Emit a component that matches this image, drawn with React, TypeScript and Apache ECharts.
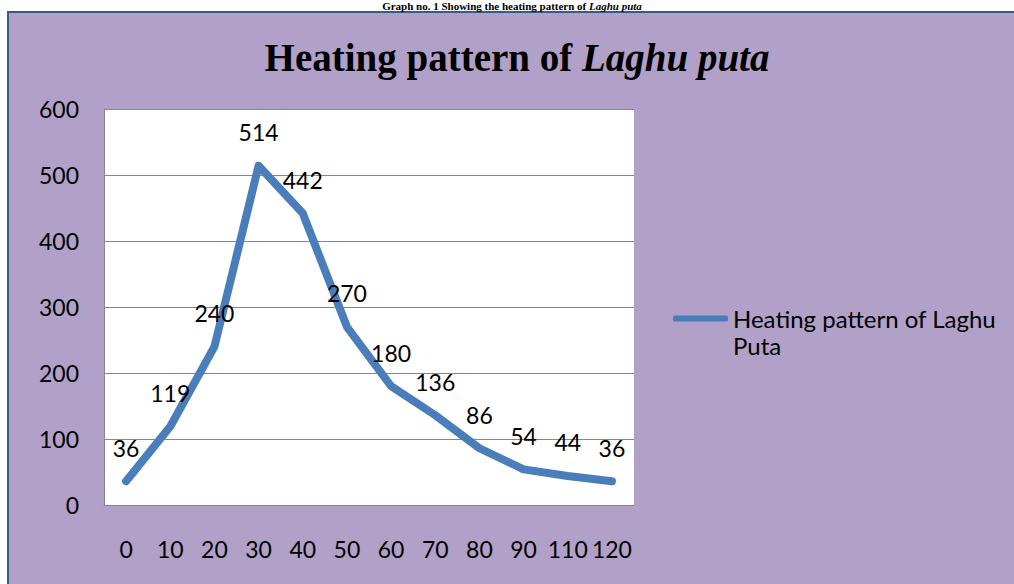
import React, { useEffect, useRef } from "react";
import * as echarts from "echarts";

const categories = ["0", "10", "20", "30", "40", "50", "60", "70", "80", "90", "110", "120"];
const values = [36, 119, 240, 514, 442, 270, 180, 136, 86, 54, 44, 36];
const seriesName = "Heating pattern of Laghu Puta";
const yTicks = { min: 0, max: 600, interval: 100 };

export default function App() {
  const ref = useRef<HTMLDivElement>(null);
  useEffect(() => {
    if (!ref.current) return;
    const chart = echarts.init(ref.current, null, { renderer: "svg" });
    const font = "Lato, 'Open Sans', sans-serif";
    const serif = "'Liberation Serif', serif";
    chart.setOption({
      animation: false,
      backgroundColor: "#ffffff",
      graphic: [
        {
          type: "rect",
          z: -10,
          shape: { x: 8, y: 12, width: 1010, height: 600 },
          style: { fill: "#b1a0c7", stroke: "#3a5a86", lineWidth: 2 },
          silent: true,
        },
        {
          type: "text",
          x: 512,
          y: 0,
          style: {
            text: "{b|Graph no. 1 Showing the heating pattern of }{i|Laghu puta}",
            align: "center",
            verticalAlign: "top",
            rich: {
              b: { fontFamily: serif, fontWeight: "bold", fontSize: 11, lineHeight: 11, fill: "#000" },
              i: { fontFamily: serif, fontWeight: "bold", fontStyle: "italic", fontSize: 11, lineHeight: 11, fill: "#000" },
            },
          },
        },
        {
          type: "text",
          x: 517,
          y: 57,
          style: {
            text: "{b|Heating pattern of }{i|Laghu puta}",
            align: "center",
            verticalAlign: "middle",
            rich: {
              b: { fontFamily: serif, fontWeight: "bold", fontSize: 39, fill: "#000" },
              i: { fontFamily: serif, fontWeight: "bold", fontStyle: "italic", fontSize: 39, fill: "#000" },
            },
          },
        },
      ],
      legend: {
        show: true,
        left: 673,
        top: 278,
        padding: 0,
        icon: "roundRect",
        itemWidth: 55,
        itemHeight: 6,
        itemGap: 5,
        data: [seriesName],
        formatter: () => "\nHeating pattern of Laghu\nPuta",
        textStyle: {
          fontFamily: font,
          fontSize: 24,
          lineHeight: 27,
          color: "#000",
        },
      },
      grid: {
        left: 104,
        top: 109,
        right: 380,
        bottom: 79,
        show: true,
        backgroundColor: "#ffffff",
        borderWidth: 0,
      },
      xAxis: {
        type: "category",
        data: categories,
        boundaryGap: true,
        axisTick: { show: false },
        axisLine: { show: true, lineStyle: { color: "#868686", width: 1 } },
        axisLabel: { interval: 0, margin: 32, fontFamily: font, fontSize: 23, color: "#000" },
      },
      yAxis: {
        type: "value",
        min: yTicks.min,
        max: yTicks.max,
        interval: yTicks.interval,
        axisTick: { show: false },
        axisLine: { show: true, lineStyle: { color: "#868686", width: 1 } },
        splitLine: { show: true, lineStyle: { color: "#868686", width: 1 } },
        axisLabel: { margin: 25, fontFamily: font, fontSize: 23, color: "#000" },
      },
      series: [
        {
          name: seriesName,
          type: "line",
          data: values,
          symbol: "circle",
          symbolSize: 0,
          showSymbol: true,
          color: "#4a7ebb",
          lineStyle: { color: "#4a7ebb", width: 8, cap: "round", join: "round" },
          label: {
            show: true,
            position: "top",
            distance: 22,
            fontFamily: font,
            fontSize: 23,
            color: "#000",
          },
        },
      ],
    });
    return () => chart.dispose();
  }, []);
  return (
    <div
      ref={ref}
      style={{ position: "absolute", left: 0, top: 0, width: 1014, height: 584 }}
    />
  );
}
